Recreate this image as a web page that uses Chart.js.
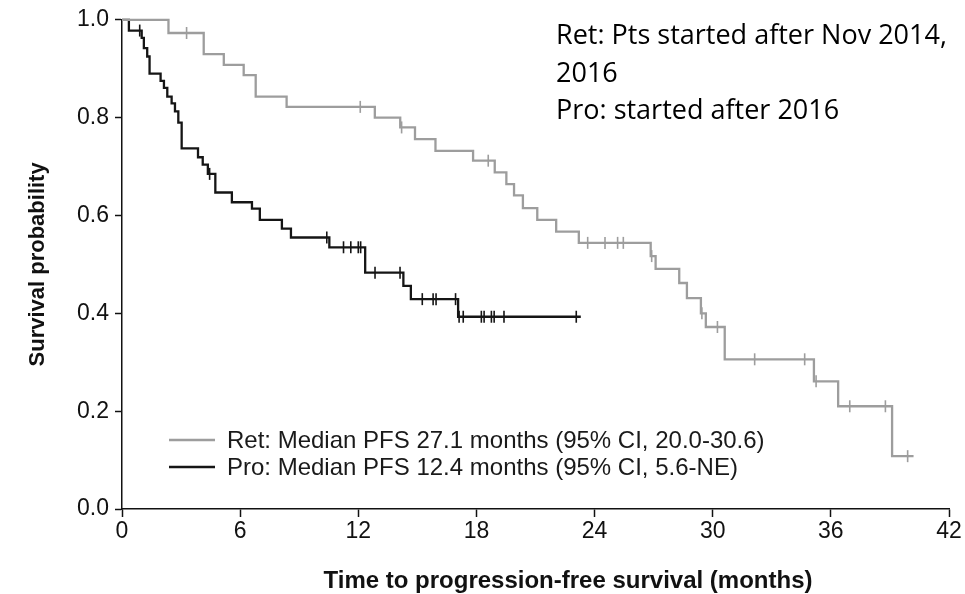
<!DOCTYPE html>
<html>
<head>
<meta charset="utf-8">
<script src="https://cdn.jsdelivr.net/npm/chart.js@4.4.1/dist/chart.umd.min.js"></script>
<style>
  html, body { margin: 0; padding: 0; background: #fff; }
  #wrap { width: 965px; height: 594px; position: relative; }
</style>
</head>
<body>
<div id="wrap"><canvas id="c" width="965" height="594"></canvas></div>
<script>
// ---- Data ----
// Ret arm: event times (months) and survival after each step
const retTimes  = [0, 2.36, 4.15, 5.17, 6.18, 6.79, 8.36, 12.84, 14.13, 14.88, 15.92, 17.83, 18.93, 19.52, 19.91, 20.36, 21.09, 22.05, 23.2, 26.85, 27.1, 28.3, 28.69, 29.4, 29.65, 30.61, 35.14, 36.37, 39.11, 40.2];
const retSurv   = [1.0, 0.973, 0.930, 0.908, 0.887, 0.843, 0.822, 0.800, 0.780, 0.756, 0.732, 0.712, 0.688, 0.664, 0.641, 0.615, 0.591, 0.567, 0.544, 0.517, 0.491, 0.462, 0.431, 0.400, 0.372, 0.306, 0.261, 0.210, 0.108, 0.108];
const retCensor = [3.28, 12.1, 14.2, 18.6, 23.65, 24.53, 25.17, 25.46, 26.9, 29.45, 30.24, 32.13, 34.67, 35.25, 36.96, 38.77, 39.9];

// Pro arm
const proTimes  = [0, 0.35, 1.0, 1.11, 1.28, 1.40, 1.96, 2.13, 2.30, 2.52, 2.69, 2.86, 3.03, 3.86, 4.10, 4.36, 4.74, 5.58, 6.60, 7.00, 8.12, 8.58, 10.53, 12.35, 14.29, 14.67, 17.07, 23.3];
const proSurv   = [1.0, 0.978, 0.963, 0.942, 0.925, 0.890, 0.875, 0.861, 0.843, 0.829, 0.813, 0.790, 0.737, 0.719, 0.704, 0.685, 0.647, 0.627, 0.614, 0.591, 0.573, 0.555, 0.535, 0.483, 0.456, 0.429, 0.393, 0.393];
const proCensor = [0.90, 4.45, 10.40, 11.25, 11.62, 12.0, 12.12, 12.85, 14.12, 15.25, 15.8, 15.95, 16.94, 17.12, 17.33, 18.25, 18.39, 18.76, 18.9, 19.4, 23.07];

const xTicks = [0, 6, 12, 18, 24, 30, 36, 42];
const yTicks = [0.0, 0.2, 0.4, 0.6, 0.8, 1.0];

const legendLabels = [
  'Ret: Median PFS 27.1 months (95% CI, 20.0-30.6)',
  'Pro: Median PFS 12.4 months (95% CI, 5.6-NE)'
];
const noteLines = ['Ret: Pts started after Nov 2014,', '2016', 'Pro: started after 2016'];
const xTitle = 'Time to progression-free survival (months)';
const yTitle = 'Survival probability';

// ---- Styles ----
const RET_COLOR = '#9d9d9d';
const PRO_COLOR = '#151515';
const AXIS_FONT = '"Liberation Sans", Arial, Helvetica, sans-serif';

function toPoints(ts, vs) { return ts.map((t, i) => ({ x: t, y: vs[i] })); }
function survAt(ts, vs, t) {
  let v = vs[0];
  for (let i = 0; i < ts.length; i++) { if (ts[i] <= t) v = vs[i]; }
  return v;
}
function censorPoints(cs, ts, vs) { return cs.map(t => ({ x: t, y: survAt(ts, vs, t) })); }

const overlay = {
  id: 'overlay',
  afterDraw(chart) {
    const ctx = chart.ctx;
    ctx.save();
    // legend
    ctx.font = '24px ' + AXIS_FONT;
    ctx.textBaseline = 'middle';
    ctx.textAlign = 'left';
    const lx0 = 169, lx1 = 215, tx = 227;
    const ly = [440, 467];
    [RET_COLOR, PRO_COLOR].forEach((col, i) => {
      ctx.strokeStyle = col; ctx.lineWidth = 2.4;
      ctx.beginPath(); ctx.moveTo(lx0, ly[i]); ctx.lineTo(lx1, ly[i]); ctx.stroke();
      ctx.fillStyle = '#1a1a1a';
      ctx.fillText(legendLabels[i], tx, ly[i] + 1);
    });
    // x axis title
    ctx.font = 'bold 24px ' + AXIS_FONT;
    ctx.textAlign = 'center';
    ctx.fillStyle = '#111';
    ctx.fillText(xTitle, 568, 581);
    // annotation
    ctx.font = '27px "Open Sans", "Noto Sans", sans-serif';
    ctx.textAlign = 'left';
    ctx.fillStyle = '#000';
    const ny = [36, 74, 111];
    noteLines.forEach((s, i) => ctx.fillText(s, 556, ny[i]));
    ctx.restore();
  }
};

const ctx = document.getElementById('c').getContext('2d');
new Chart(ctx, {
  type: 'line',
  data: {
    datasets: [
      { data: toPoints(retTimes, retSurv), borderColor: RET_COLOR, borderWidth: 2.3, stepped: 'before', pointRadius: 0, fill: false, clip: false },
      { data: toPoints(proTimes, proSurv), borderColor: PRO_COLOR, borderWidth: 2.3, stepped: 'before', pointRadius: 0, fill: false, clip: false },
      { type: 'scatter', data: censorPoints(retCensor, retTimes, retSurv), pointStyle: 'line', rotation: 90, pointRadius: 6, borderColor: RET_COLOR, borderWidth: 1.6, showLine: false, clip: false },
      { type: 'scatter', data: censorPoints(proCensor, proTimes, proSurv), pointStyle: 'line', rotation: 90, pointRadius: 6, borderColor: PRO_COLOR, borderWidth: 1.6, showLine: false, clip: false }
    ]
  },
  options: {
    responsive: false,
    animation: false,
    layout: { padding: { left: 0, right: 16, top: 18, bottom: 0 } },
    plugins: { legend: { display: false }, tooltip: { enabled: false } },
    scales: {
      x: {
        type: 'linear', min: 0, max: 42,
        afterBuildTicks: s => { s.ticks = xTicks.map(v => ({ value: v })); },
        afterFit: s => { s.height = 85; },
        grid: { drawOnChartArea: false, drawTicks: true, tickLength: 8, tickColor: '#111', tickWidth: 1.5 },
        border: { display: true, color: '#111', width: 1.5 },
        ticks: { color: '#111', font: { family: AXIS_FONT, size: 23 }, padding: 1, maxRotation: 0 },
        title: { display: false }
      },
      y: {
        type: 'linear', min: 0, max: 1,
        afterBuildTicks: s => { s.ticks = yTicks.map(v => ({ value: v })); },
        afterFit: s => { s.width = 122; },
        grid: { drawOnChartArea: false, drawTicks: true, tickLength: 7, tickColor: '#111', tickWidth: 1.5 },
        border: { display: true, color: '#111', width: 1.5 },
        ticks: { color: '#111', font: { family: AXIS_FONT, size: 23 }, padding: 6, callback: v => Number(v).toFixed(1) },
        title: { display: true, text: yTitle, color: '#111', font: { family: AXIS_FONT, size: 22, weight: 'bold' }, padding: { top: 25, bottom: 0 } }
      }
    }
  },
  plugins: [overlay]
});
</script>
</body>
</html>
